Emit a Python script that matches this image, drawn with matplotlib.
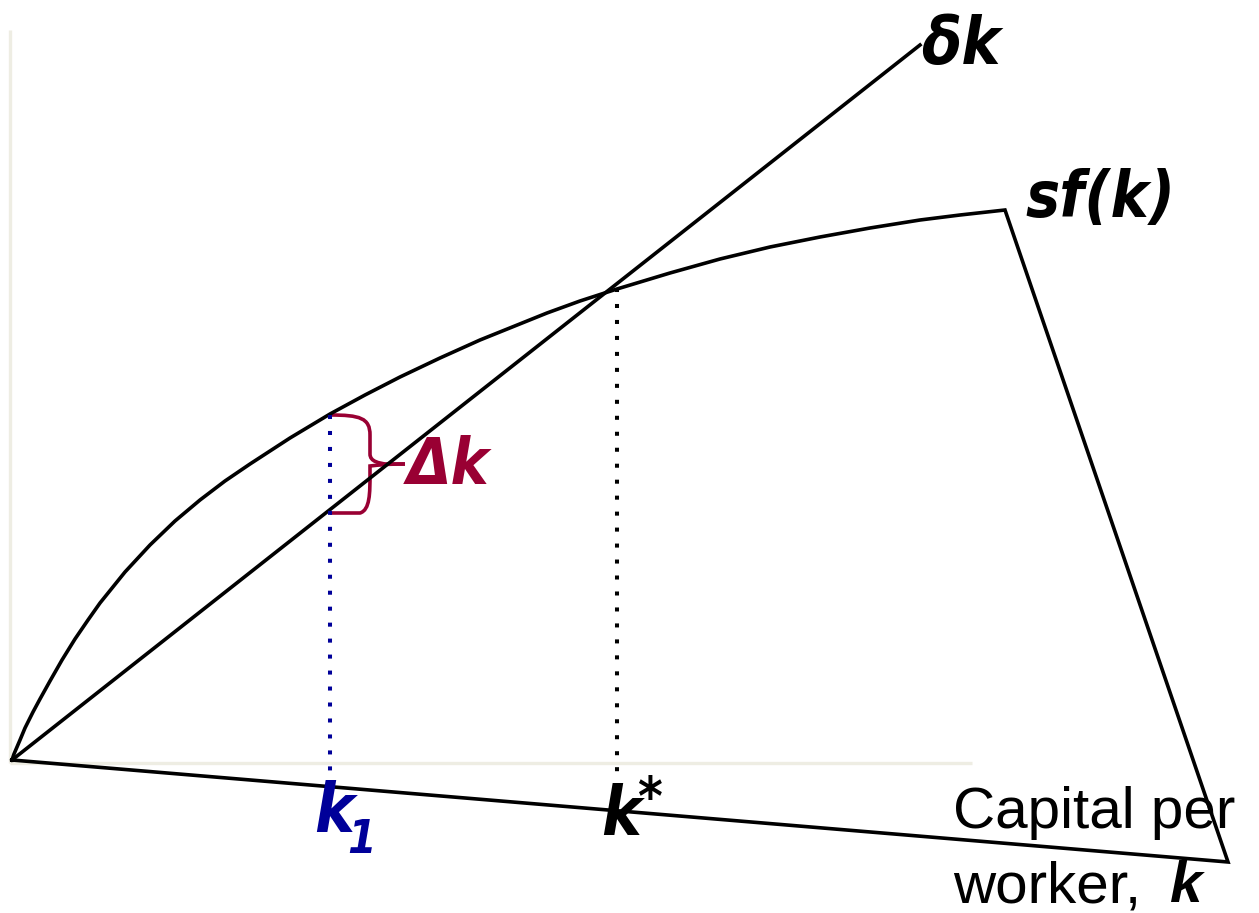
import matplotlib
matplotlib.use("Agg")
import matplotlib.pyplot as plt
from matplotlib.path import Path
from matplotlib.patches import PathPatch

# drawing units are the picture's pixels, y grows downward
sf_x = [12, 14, 17, 20, 25, 33, 40, 50, 62, 75, 88, 100, 125, 150, 175, 200, 225,
        250, 290, 330, 365, 400, 440, 480, 547, 580, 617, 670, 720, 770, 820, 870,
        920, 960, 1005]
sf_y = [760, 754, 747, 740, 728, 712, 699, 681, 660, 639, 620, 603, 572, 545, 521,
        500, 481, 464, 438, 414, 395, 377, 358, 340, 313, 301, 289, 273, 259, 247,
        237, 228, 220, 215, 210]
# the frame closes back to the origin through a far corner
corner_x = [1005, 1228, 12]
corner_y = [210, 862, 760]

dk_x = [12, 920]
dk_y = [760, 45]

axis_v_x = [10, 10]
axis_v_y = [30, 763]
axis_h_x = [10, 972]
axis_h_y = [763, 763]

k1 = 330
k1_top, k1_bot, k1_end = 415, 513, 775
kstar = 617
kstar_top, kstar_end = 288, 775

plt.rcParams["lines.scale_dashes"] = False

fig = plt.figure(figsize=(12.59, 9.13), dpi=100)
ax = fig.add_axes([0, 0, 1, 1])
ax.set_xlim(0, 1259)
ax.set_ylim(913, 0)
ax.axis("off")

axis_col = "#EEEDE3"
ax.plot(axis_v_x, axis_v_y, color=axis_col, lw=2.4, solid_capstyle="butt")
ax.plot(axis_h_x, axis_h_y, color=axis_col, lw=2.4, solid_capstyle="butt")

ax.plot(sf_x + corner_x[1:], sf_y + corner_y[1:], color="black", lw=2.6,
        solid_joinstyle="miter")
ax.plot(dk_x, dk_y, color="black", lw=2.6)

dots = (0, (2.9, 8.6))
ax.plot([k1, k1], [k1_top, k1_end], color="#000099", lw=2.9,
        linestyle=dots, dash_capstyle="butt")
ax.plot([kstar, kstar], [kstar_top, kstar_end], color="black", lw=2.9,
        linestyle=dots, dash_capstyle="butt")

# curly brace for the gap at k1
bx = k1 + 40
mid = (k1_top + k1_bot) / 2
tip = k1 + 75
verts = [
    (k1, k1_top), (k1 + 30, k1_top), (bx, k1_top + 3), (bx, k1_top + 20),
    (bx, mid - 10), (bx, mid - 2), (bx + 10, mid - 1), (tip - 20, mid), (tip, mid),
]
verts2 = [
    (tip, mid), (tip - 20, mid), (bx + 10, mid + 1), (bx, mid + 2), (bx, mid + 10),
    (bx, k1_bot - 20), (bx, k1_bot - 3), (k1 + 30, k1_bot), (k1, k1_bot),
]
codes = [Path.MOVETO, Path.CURVE4, Path.CURVE4, Path.CURVE4,
         Path.LINETO, Path.CURVE4, Path.CURVE4, Path.CURVE4, Path.LINETO]
brace_col = "#990033"
for v in (verts, verts2):
    ax.add_patch(PathPatch(Path(v, codes), fill=False, ec=brace_col, lw=2.6))

bi = dict(family="DejaVu Sans", weight="bold", style="italic", stretch="condensed",
          ha="left", va="baseline")
ax.text(921, 64, "δk", fontsize=47, color="black", **bi)
ax.text(1025, 217, "sf(k)", fontsize=46, color="black", **bi)
ax.text(407, 484, "Δk", fontsize=46, color=brace_col, **bi)
ax.text(314, 832, "k", fontsize=48, color="#000099", **bi)
ax.text(347, 853, "1", fontsize=33, color="#000099", **bi)
ax.text(601, 835, "k", fontsize=48, color="black", **bi)
ax.text(637, 815, "*", fontsize=38, color="black", **bi)

ax.text(953, 828, "Capital per", fontsize=42, color="black", ha="left",
        va="baseline", family="Liberation Sans")
ax.text(953, 902, "worker, ", fontsize=42, color="black", ha="left",
        va="baseline", family="Liberation Sans")
ax.text(1170, 902, "k", fontsize=42, color="black", ha="left", va="baseline",
        family="Liberation Sans", weight="bold", style="italic")

fig.savefig("out.png", dpi=100)
